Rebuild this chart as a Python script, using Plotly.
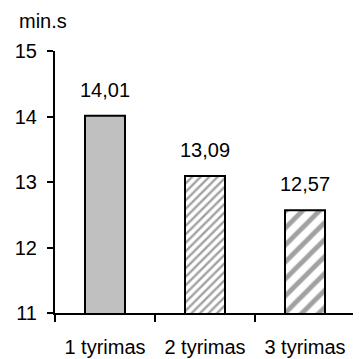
import plotly.graph_objects as go

categories = ["1 tyrimas", "2 tyrimas", "3 tyrimas"]
values = [14.01, 13.09, 12.57]
y_ticks = [11, 12, 13, 14, 15]
unit_label = "min.s"

# bar 1 solid, the others hatched (dense / wider stripes)
pattern_shapes = ["", "/", "/"]
pattern_sizes = [8, 6, 12]

labels = [f"{v:.2f}".replace(".", ",") for v in values]

fig = go.Figure()
fig.add_trace(go.Bar(
    x=categories, y=values,
    base=0,
    width=0.4,
    marker=dict(
        color=["#c0c0c0", "white", "white"],
        line=dict(color="black", width=2),
        pattern=dict(shape=pattern_shapes, size=pattern_sizes,
                     fgcolor="#8c8c8c", bgcolor="white", solidity=0.4),
    ),
))

# value labels above the bars
for c, v, t in zip(categories, values, labels):
    fig.add_annotation(x=c, y=v, text=t, showarrow=False,
                       yanchor="bottom", yshift=13,
                       font=dict(size=20, color="black"))

# unit label, top edge pinned at the top of the figure
fig.add_annotation(text=unit_label, xref="paper", yref="paper",
                   x=-0.127, y=1.164, xanchor="left", yanchor="top",
                   showarrow=False, font=dict(size=20))

# the page body has an 8px margin, so margins are shifted to compensate
fig.update_layout(
    width=361, height=359,
    margin=dict(l=47, r=14, t=43, b=54),
    plot_bgcolor="white", paper_bgcolor="white",
    font=dict(family="Liberation Sans, Arial", size=20, color="black"),
    showlegend=False,
    bargap=0.6,
)
fig.update_yaxes(range=[11, 15], tickvals=y_ticks, showgrid=False,
                 showline=True, linecolor="black", linewidth=2,
                 ticks="outside", ticklen=6, tickwidth=2, tickcolor="black",
                 ticklabelstandoff=6, zeroline=False, automargin=False)
fig.update_xaxes(showline=True, linecolor="black", linewidth=2,
                 ticks="outside", tickson="boundaries", ticklen=7,
                 tickwidth=2, tickcolor="black", showgrid=False,
                 ticklabelstandoff=15, automargin=False)

fig.write_html("out.html")
